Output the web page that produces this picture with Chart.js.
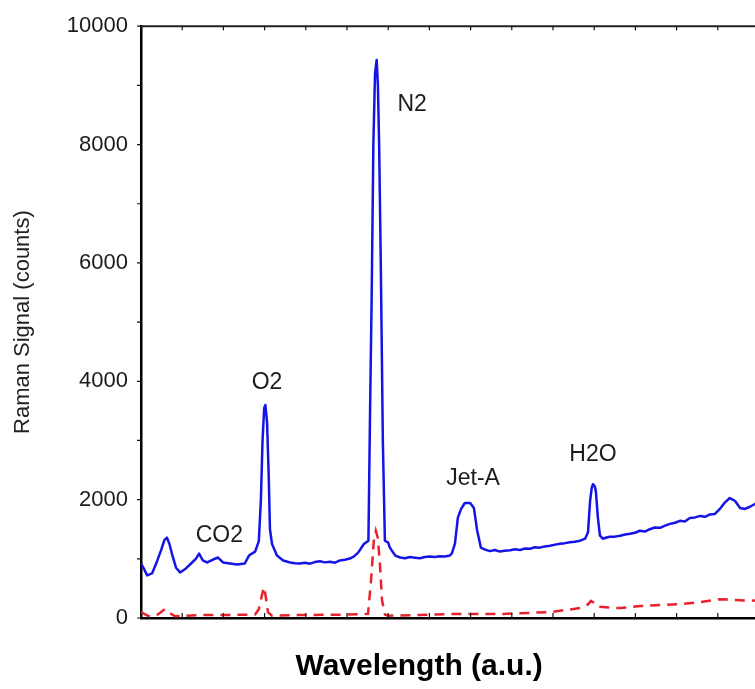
<!DOCTYPE html>
<html>
<head>
<meta charset="utf-8">
<script src="https://cdn.jsdelivr.net/npm/chart.js@4.4.1/dist/chart.umd.min.js"></script>
<style>
  html, body { margin: 0; padding: 0; background: #fff; overflow: hidden; }
  #wrap { width: 765px; height: 689px; }
</style>
</head>
<body>
<div id="wrap"><canvas id="raman" width="765" height="689"></canvas></div>
<script>
// wavelength (a.u.) and signal for the sample spectrum (solid blue)
const waveSample = [0, 8, 15, 27, 39, 49, 57, 63, 69, 75, 85, 95, 109, 124, 133, 141, 150, 160, 167, 175, 187, 199, 216, 233, 252, 262, 277, 286, 291, 295, 299, 302, 306, 310, 313, 318, 330, 345, 362, 374, 386, 398, 410, 422, 434, 446, 459, 471, 483, 495, 507, 517, 527, 541, 552, 556, 560, 564, 568, 572, 575, 578, 582, 587, 592, 600, 604, 617, 629, 641, 653, 665, 677, 689, 701, 713, 725, 737, 750, 755, 762, 769, 777, 786, 799, 808, 816, 825, 835, 847, 859, 871, 883, 896, 908, 920, 932, 944, 956, 968, 980, 993, 1005, 1017, 1029, 1041, 1053, 1066, 1078, 1085, 1090, 1094, 1097, 1101, 1104, 1109, 1114, 1121, 1130, 1138, 1150, 1163, 1175, 1187, 1199, 1211, 1223, 1235, 1247, 1260, 1272, 1284, 1296, 1308, 1320, 1332, 1345, 1357, 1369, 1381, 1393, 1405, 1417, 1429, 1436, 1442, 1454, 1466, 1478, 1490, 1500];
const signalSample = [921, 820, 720, 754, 960, 1150, 1320, 1357, 1250, 1089, 850, 770, 838, 938, 1000, 1089, 972, 938, 960, 988, 1022, 938, 921, 905, 921, 1055, 1122, 1300, 2000, 3000, 3550, 3600, 3300, 2400, 1500, 1250, 1055, 972, 938, 925, 921, 935, 918, 945, 960, 940, 950, 935, 972, 985, 1005, 1040, 1105, 1250, 1306, 3500, 5500, 8000, 9200, 9430, 9000, 8000, 6000, 3000, 1306, 1273, 1189, 1055, 1022, 1010, 1030, 1020, 1010, 1030, 1039, 1030, 1045, 1040, 1055, 1100, 1256, 1692, 1843, 1943, 1943, 1860, 1474, 1189, 1156, 1130, 1150, 1122, 1135, 1145, 1160, 1150, 1175, 1170, 1195, 1189, 1210, 1220, 1240, 1256, 1265, 1280, 1290, 1306, 1340, 1450, 1977, 2200, 2261, 2230, 2144, 1692, 1390, 1340, 1360, 1373, 1375, 1390, 1410, 1424, 1440, 1474, 1460, 1500, 1530, 1524, 1560, 1590, 1610, 1642, 1630, 1690, 1700, 1725, 1710, 1750, 1759, 1843, 1950, 2027, 2000, 1977, 1860, 1843, 1880, 1926, 1920];

// background / reference spectrum (dashed red)
const waveBackground = [0, 10, 22, 41, 58, 70, 83, 143, 216, 277, 286, 294, 299, 303, 308, 318, 386, 483, 551, 558, 565, 570, 575, 580, 585, 592, 600, 677, 750, 871, 993, 1066, 1085, 1092, 1099, 1109, 1138, 1163, 1211, 1260, 1308, 1357, 1405, 1454, 1500];
const signalBackground = [100, 60, 20, 60, 150, 80, 30, 50, 50, 60, 150, 400, 520, 350, 100, 40, 50, 55, 70, 600, 1300, 1474, 1350, 900, 300, 60, 40, 50, 67, 67, 100, 168, 230, 290, 260, 190, 175, 168, 201, 218, 235, 268, 318, 300, 290];

// peak labels, placed in data coordinates
const peakNames = ['CO2', 'O2', 'N2', 'Jet-A', 'H2O'];
const peakLabelX = [190, 306, 658, 806, 1097];
const peakLabelY = [1390, 3970, 8680, 2360, 2760];

const yTickStep = 1000;
const xTickStep = 100;

function toPoints(xs, ys) {
    return xs.map((x, i) => ({ x: x, y: ys[i] }));
}

const FONT = '"Liberation Sans", Arial, sans-serif';

const frameAndLabels = {
    id: 'frameAndLabels',
    afterDraw(chart) {
        const ctx = chart.ctx;
        const area = chart.chartArea;
        const xs = chart.scales.x;
        const ys = chart.scales.y;
        ctx.save();

        // top and right frame
        ctx.strokeStyle = '#222';
        ctx.lineWidth = 2;
        ctx.beginPath();
        ctx.moveTo(area.left, area.top);
        ctx.lineTo(area.right, area.top);
        ctx.lineTo(area.right, area.bottom);
        ctx.stroke();

        // tick marks
        ctx.lineWidth = 1.2;
        ctx.strokeStyle = '#111';
        ctx.beginPath();
        xs.ticks.forEach(t => {
            const px = xs.getPixelForValue(t.value);
            ctx.moveTo(px, area.bottom);
            ctx.lineTo(px, area.bottom - 5);
            ctx.moveTo(px, area.top);
            ctx.lineTo(px, area.top + 4);
        });
        ys.ticks.forEach(t => {
            const py = ys.getPixelForValue(t.value);
            ctx.moveTo(area.left - 4, py);
            ctx.lineTo(area.left, py);
            ctx.moveTo(area.right, py);
            ctx.lineTo(area.right - 4, py);
        });
        ctx.stroke();

        // peak labels
        ctx.fillStyle = '#1c1c1c';
        ctx.font = '23px ' + FONT;
        ctx.textAlign = 'center';
        ctx.textBaseline = 'middle';
        peakNames.forEach((name, i) => {
            ctx.fillText(name, xs.getPixelForValue(peakLabelX[i]), ys.getPixelForValue(peakLabelY[i]));
        });

        // x axis title
        ctx.fillStyle = '#000';
        ctx.font = 'bold 30px ' + FONT;
        ctx.fillText('Wavelength (a.u.)', xs.getPixelForValue(675), area.bottom + 49);
        ctx.restore();
    }
};

new Chart(document.getElementById('raman').getContext('2d'), {
    type: 'line',
    data: {
        datasets: [
            {
                label: 'Sample',
                data: toPoints(waveSample, signalSample),
                borderColor: '#1414e6',
                borderWidth: 2.5,
                borderJoinStyle: 'round',
                pointRadius: 0,
                tension: 0,
                fill: false
            },
            {
                label: 'Background',
                data: toPoints(waveBackground, signalBackground),
                borderColor: '#e8222c',
                borderWidth: 2.5,
                borderDash: [10, 7],
                pointRadius: 0,
                tension: 0,
                fill: false
            }
        ]
    },
    options: {
        responsive: false,
        animation: false,
        layout: { padding: { top: 21, right: 6, left: 0, bottom: 0 } },
        plugins: {
            legend: { display: false },
            tooltip: { enabled: false }
        },
        scales: {
            x: {
                type: 'linear',
                min: 0,
                max: 1500,
                ticks: { display: false, stepSize: xTickStep },
                grid: { display: false, drawTicks: false },
                border: { display: true, color: '#000', width: 2.5 },
                afterFit: s => { s.height = 71; }
            },
            y: {
                min: 0,
                max: 10000,
                ticks: {
                    stepSize: yTickStep,
                    padding: 13,
                    color: '#1a1a1a',
                    font: { family: FONT, size: 22 },
                    callback: v => (v % 2000 === 0 ? String(v) : '')
                },
                grid: { display: false, drawTicks: false },
                border: { display: true, color: '#000', width: 2.5 },
                title: {
                    display: true,
                    text: 'Raman Signal (counts)',
                    color: '#222',
                    font: { family: FONT, size: 22 },
                    padding: { top: 10, bottom: 0 }
                },
                afterFit: s => { s.width = 141; }
            }
        }
    },
    plugins: [frameAndLabels]
});
</script>
</body>
</html>
